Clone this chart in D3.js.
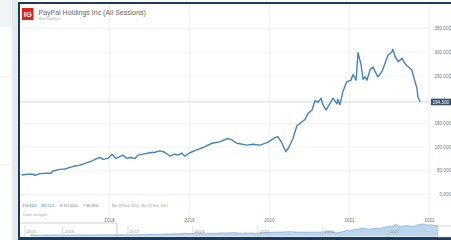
<!DOCTYPE html>
<html>
<head>
<meta charset="utf-8">
<title>PayPal Holdings Inc (All Sessions)</title>
<script src="https://d3js.org/d3.v7.min.js"></script>
<style>
  body { margin: 0; background: #fff; }
  svg { display: block; font-family: "Liberation Sans", Arial, sans-serif; }
  .grid line { stroke: #eef0f3; stroke-width: 0.8px; }
  .grid path { display: none; }
  .grid text { fill: #777; font-size: 4.6px; }
  .price { fill: none; stroke: #4283c6; stroke-width: 1.4px; stroke-linejoin: round; }
</style>
</head>
<body>
<div id="chart"></div>
<script>
// weekly closes
var dates = ["2016-11-28","2016-12-22","2017-01-15","2017-01-28","2017-02-20","2017-03-24","2017-04-11","2017-04-20",
  "2017-05-22","2017-06-14","2017-07-07","2017-07-30","2017-08-22","2017-09-23","2017-10-16","2017-11-08","2017-11-22",
  "2017-12-05","2017-12-27","2018-01-15","2018-02-02","2018-02-20","2018-03-06","2018-03-24","2018-04-07","2018-04-30",
  "2018-05-13","2018-06-05","2018-07-07","2018-07-30","2018-08-22","2018-09-13","2018-10-06","2018-10-29","2018-11-11",
  "2018-11-29","2018-12-13","2019-01-05","2019-02-06","2019-03-06","2019-04-16","2019-05-22","2019-06-28","2019-07-16",
  "2019-08-08","2019-09-23","2019-10-20","2019-11-21","2019-12-27","2020-01-28","2020-02-11","2020-02-29","2020-03-18",
  "2020-04-01","2020-04-20","2020-05-08","2020-05-31","2020-06-14","2020-06-28","2020-07-16","2020-07-30","2020-08-13",
  "2020-08-26","2020-09-04","2020-09-18","2020-10-06","2020-10-20","2020-11-07","2020-11-11","2020-11-20","2020-12-04",
  "2020-12-22","2021-01-10","2021-01-19","2021-02-02","2021-02-11","2021-02-25","2021-03-06","2021-03-15","2021-03-24",
  "2021-04-07","2021-04-20","2021-04-30","2021-05-13","2021-05-31","2021-06-14","2021-06-28","2021-07-16","2021-07-20",
  "2021-07-30","2021-08-13","2021-08-31","2021-09-13","2021-09-27","2021-10-15","2021-10-29","2021-11-07","2021-11-11",
  "2021-11-22"];
var closes = [40,41.5,42,39.5,43,43.6,43.6,48.5,
  52,52.7,56,59,61,66,70,75,77,
  73,75,84,75,79,82,75,77,75,
  82,84,87,88,91,88,80,84,82,
  86,80,87,93,98,107,110,117,114,
  107,103,105,103,109,119,121,108,89,
  98,117,144,152,157,170,177,197,193,
  202,188,177,191,202,190,200,188,216,
  237,240,252,240,298,272,242,247,240,
  262,268,258,247,258,275,293,300,305,
  290,279,286,275,269,261,237,223,205,
  194];

// navigator only: history before the selected range
var histDates = ["2015-07-06","2015-08-24","2015-10-12","2015-12-07","2016-02-08","2016-04-04","2016-06-27","2016-08-22","2016-10-17"];
var histCloses = [40,33,34,36,34,39,37,40,40];

var yTicks = [0,50,100,150,250,300,350];
var xTicks = ["2018","2019","2020","2021","2022"];
var navYears = ["2016","2017","2018","2019","2020","2021"];

var title = "PayPal Holdings Inc (All Sessions)";
var subtitle = "Wöchentlich";
var stats = ["194.3300","382.55%","H 312.4050","T 38.2850","Mo. 28 Nov. 2016 - Mo. 22 Nov. 2021"];
var lastLabel = "194.300";

var parse = d3.timeParse("%Y-%m-%d");
var data = dates.map(function(d, i) { return {date: parse(d), v: closes[i]}; });
var navData = histDates.map(function(d, i) { return {date: parse(d), v: histCloses[i]}; }).concat(data);

var width = 451, height = 240;
var svg = d3.select("#chart").append("svg").attr("width", width).attr("height", height);

// page around the widget
svg.append("rect").attr("x", 0).attr("y", 0).attr("width", 12).attr("height", 27).attr("fill", "#f1f4f5");
svg.append("rect").attr("x", 12).attr("y", 0).attr("width", 6).attr("height", height).attr("fill", "#e3ebed");
[77, 165].forEach(function(yy) {
  svg.append("line").attr("x1", 0).attr("x2", 12).attr("y1", yy).attr("y2", yy).attr("stroke", "#e6e9eb").attr("stroke-width", 0.8);
});

// frame
svg.append("rect").attr("x", 18).attr("y", 2).attr("width", 440).attr("height", 238).attr("fill", "#1d3a5c");
svg.append("rect").attr("x", 20).attr("y", 4).attr("width", 440).attr("height", 233).attr("fill", "#fff");

var x = d3.scaleTime().domain([parse("2017-01-01"), parse("2022-01-01")]).range([29, 429]);
var y = d3.scaleLinear().domain([0, 350]).range([194, 28]);

// horizontal grid + right labels
var gy = svg.append("g").attr("class", "grid").attr("transform", "translate(20,0)")
  .call(d3.axisRight(y).tickValues(yTicks).tickSize(410).tickFormat(d3.format(".3f")));
gy.selectAll("text").attr("x", 431).attr("text-anchor", "end").attr("dy", "0.35em");

// vertical grid + year labels
var gx = svg.append("g").attr("class", "grid").attr("transform", "translate(0,218)")
  .call(d3.axisBottom(x).tickValues(xTicks.map(function(t) { return parse(t + "-01-01"); }))
    .tickSize(-214).tickFormat(d3.timeFormat("%Y")));
gx.selectAll("text").attr("y", 2.5).attr("dy", "0.35em");

// current price line
var last = data[data.length - 1];
svg.append("line").attr("x1", 20).attr("x2", 431).attr("y1", y(last.v)).attr("y2", y(last.v))
  .attr("stroke", "#c9ced4").attr("stroke-width", 0.8);

svg.append("path").datum(data).attr("class", "price")
  .attr("d", d3.line().x(function(d) { return x(d.date); }).y(function(d) { return y(d.v); }));

svg.append("rect").attr("x", 431).attr("y", y(last.v) - 3.3).attr("width", 22).attr("height", 6.6).attr("fill", "#3c4f66");
svg.append("text").attr("x", 449).attr("y", y(last.v)).attr("dy", "0.35em").attr("text-anchor", "end")
  .attr("font-size", 4.6).attr("fill", "#fff").text(lastLabel);

// header
svg.append("rect").attr("x", 22).attr("y", 8).attr("width", 11.5).attr("height", 12).attr("fill", "#e2231a");
svg.append("text").attr("x", 27.8).attr("y", 17).attr("text-anchor", "middle").attr("font-size", 7.5)
  .attr("font-weight", "bold").attr("fill", "#fff").text("IG");
svg.append("text").attr("x", 38.5).attr("y", 14.5).attr("font-size", 7).attr("fill", "#666").text(title);
svg.append("text").attr("x", 38.5).attr("y", 19.5).attr("font-size", 4).attr("fill", "#aaa").text(subtitle);

// stats row
var statX = [22.5, 41, 60, 83, 112];
var statCol = ["#3d7fc4", "#3d7fc4", "#777", "#777", "#999"];
stats.forEach(function(s, i) {
  svg.append("text").attr("x", statX[i]).attr("y", 207).attr("font-size", 3.4).attr("fill", statCol[i]).text(s);
});
svg.append("text").attr("x", 23).attr("y", 215.5).attr("font-size", 3.4).attr("fill", "#aaa").text("Daten verzögert");

// navigator
var nx = d3.scaleTime().domain([parse("2017-01-01"), parse("2021-01-01")]).range([128, 388]);
var ny = d3.scaleLinear().domain([0, 305]).range([236.5, 224]);
svg.append("clipPath").attr("id", "navclip").append("rect")
  .attr("x", 20).attr("y", 222).attr("width", 418).attr("height", 15);
var navG = svg.append("g").attr("clip-path", "url(#navclip)");
navG.append("path").datum(navData).attr("fill", "#bcd5ec")
  .attr("d", d3.area().x(function(d) { return nx(d.date); }).y0(236.5).y1(function(d) { return ny(d.v); }));
navG.append("path").datum(navData).attr("fill", "none").attr("stroke", "#6fa3d6").attr("stroke-width", 0.6)
  .attr("d", d3.line().x(function(d) { return nx(d.date); }).y(function(d) { return ny(d.v); }));

var navYearList = ["2015"].concat(navYears);
navYearList.forEach(function(yr) {
  var xx = Math.max(25, nx(parse(yr + "-01-01")));
  svg.append("line").attr("x1", xx).attr("x2", xx).attr("y1", 226).attr("y2", 237)
    .attr("stroke", "#c4c8cc").attr("stroke-width", 0.6);
  svg.append("text").attr("x", xx + 2).attr("y", 233).attr("font-size", 4.2).attr("fill", "#999").text(yr);
});

// unselected part of the navigator
var selX = nx(data[0].date) - 5;
svg.append("path").attr("d", "M20.5,223 H" + selX + " V237").attr("fill", "none")
  .attr("stroke", "#b8bec4").attr("stroke-width", 0.7);
// right handle
svg.append("rect").attr("x", 438).attr("y", 226).attr("width", 14).attr("height", 11)
  .attr("fill", "#fff").attr("stroke", "#b8bec4").attr("stroke-width", 0.6);
</script>
</body>
</html>
